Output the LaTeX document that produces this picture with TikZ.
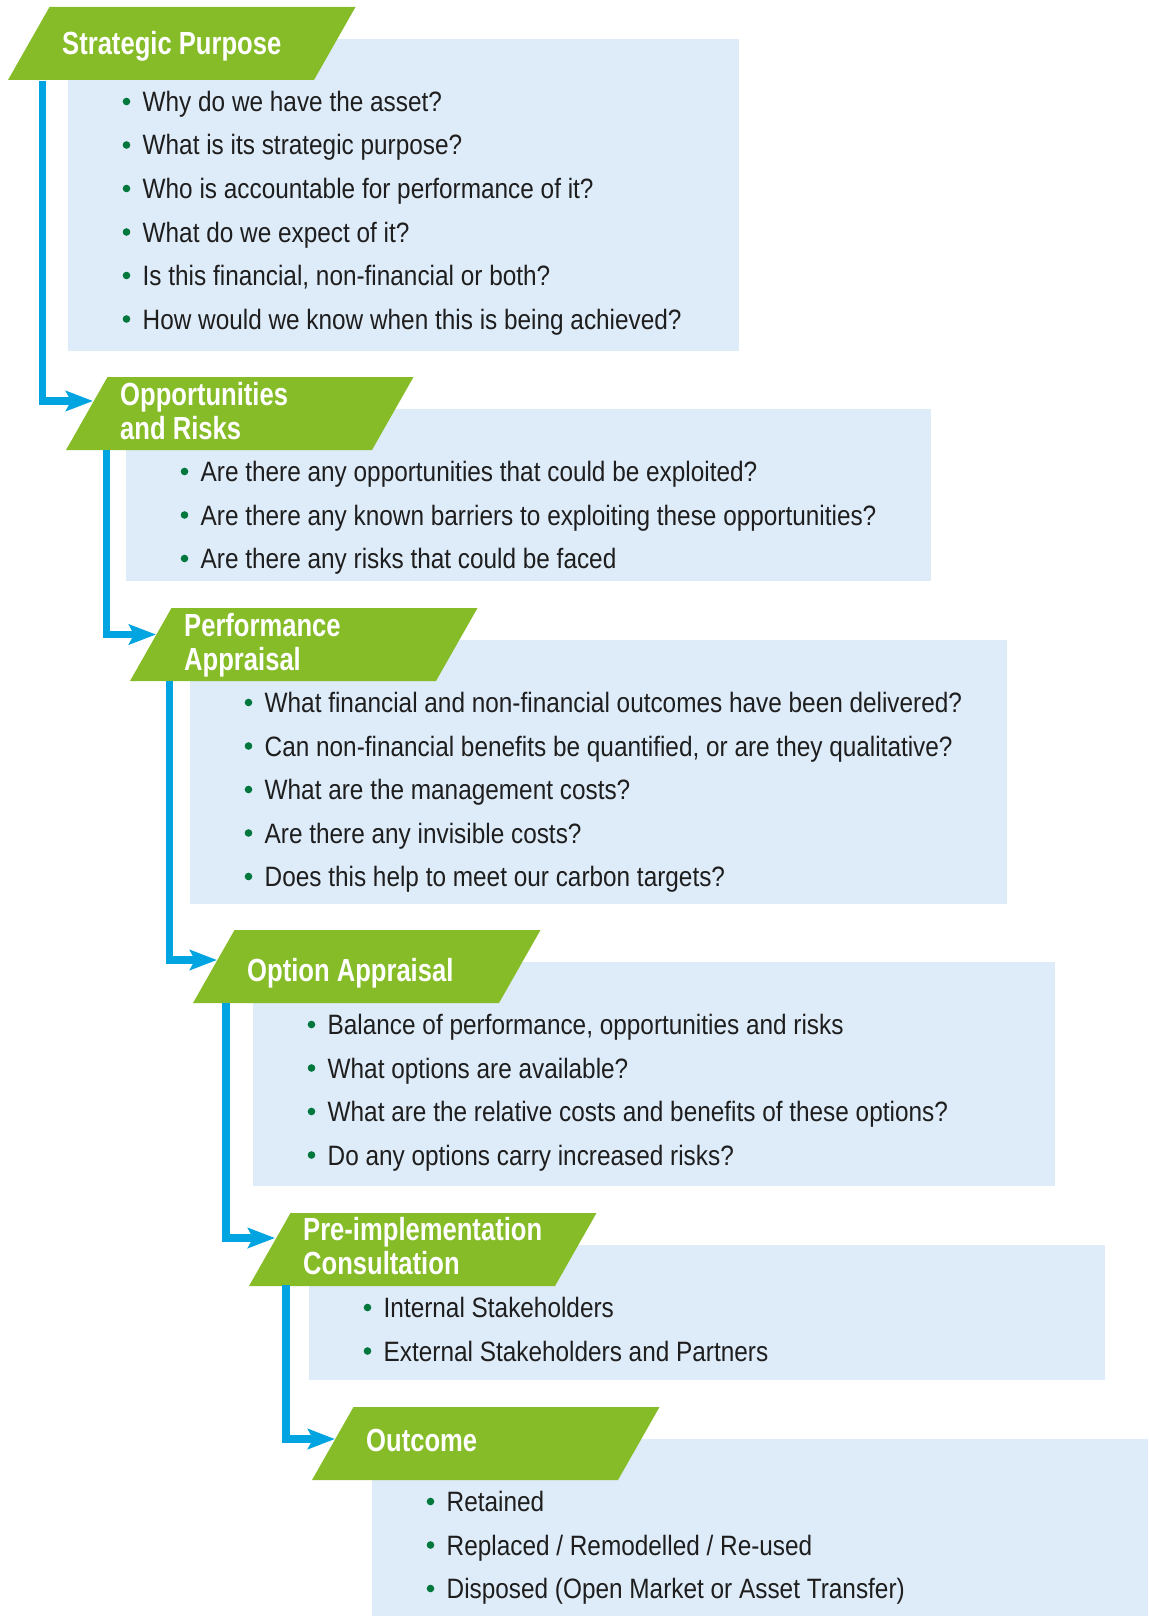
\documentclass[tikz,border=0pt]{standalone}
\usepackage{fontspec}
\setmainfont{Liberation Sans}[FakeStretch=0.87]
\newfontfamily\titlefont{Liberation Sans}[FakeStretch=0.8]
\usetikzlibrary{arrows.meta}
\definecolor{tabgreen}{HTML}{85BC28}
\definecolor{panelblue}{HTML}{DEEBF8}
\definecolor{lineblue}{HTML}{00A4E0}
\definecolor{dotgreen}{HTML}{00773D}
\definecolor{ink}{HTML}{1E1E1E}
\tikzset{
  panel/.style={fill=panelblue},
  tab/.style={fill=tabgreen},
  title/.style={text=white, font=\titlefont\bfseries\fontsize{32}{33.5}\selectfont, inner sep=0pt, anchor=base west, align=left},
  item/.style={text=ink, font=\fontsize{28}{30}\selectfont, inner sep=0pt, anchor=base west},
  bulletdot/.style={fill=dotgreen},
  flow/.style={draw=lineblue, line width=7.5pt, line join=miter, -{Stealth[length=27pt,width=20pt,inset=5pt]}}
}
% #1 id, #2 bottom-left x, #3 top y, #4 panel right, #5 panel bottom, #6 items
\newcommand\stagepanel[6]{%
  \fill[panel] ({#2+60},{#3+32}) rectangle (#4,#5);
  \fill[tab] (#2,{#3+73}) -- ({#2+41.5},#3) -- ({#2+347.5},#3) -- ({#2+306},{#3+73}) -- cycle;
  \foreach \txt [count=\k from 0] in {#6} {
    \fill[bulletdot] ({#2+118.5},{#3+32+72.5+43.5*\k-10}) circle (3.8);
    \node[item] (#1-\k) at ({#2+134.5},{#3+32+72.5+43.5*\k}) {\txt};
  }
}
\begin{document}
\begin{tikzpicture}[x=1pt,y=-1pt]
\useasboundingbox (0,0) rectangle (1148,1616);

\stagepanel{s1}{8}{7}{739}{351.4}{{Why do we have the asset?},{What is its strategic purpose?},{Who is accountable for performance of it?},{What do we expect of it?},{Is this financial, non-financial or both?},{How would we know when this is being achieved?}}
\stagepanel{s2}{66}{377}{930.5}{581}{{Are there any opportunities that could be exploited?},{Are there any known barriers to exploiting these opportunities?},{Are there any risks that could be faced}}
\stagepanel{s3}{130}{608}{1007}{904}{{What financial and non-financial outcomes have been delivered?},{Can non-financial benefits be quantified, or are they qualitative?},{What are the management costs?},{Are there any invisible costs?},{Does this help to meet our carbon targets?}}
\stagepanel{s4}{193}{930}{1055}{1186}{{Balance of performance, opportunities and risks},{What options are available?},{What are the relative costs and benefits of these options?},{Do any options carry increased risks?}}
\stagepanel{s5}{249}{1213}{1105}{1380}{{Internal Stakeholders},{External Stakeholders and Partners}}
\stagepanel{s6}{312}{1407}{1148}{1616}{{Retained},{Replaced / Remodelled / Re-used},{Disposed (Open Market or Asset Transfer)}}

% multi-line titles: base anchor sits on the last line's baseline
\node[title] (t1) at (62,55) {Strategic Purpose};
\node[title] (t2) at (120,439) {Opportunities\\and Risks};
\node[title] (t3) at (184,670) {Performance\\Appraisal};
\node[title] (t4) at (247,981.7) {Option Appraisal};
\node[title] (t5) at (303,1274) {Pre-implementation\\Consultation};
\node[title] (t6) at (366,1451.7) {Outcome};

\coordinate (o1) at (42.5,81);
\coordinate (i2) at (93,401);
\coordinate (o2) at (106.5,450);
\coordinate (i3) at (156,634.5);
\coordinate (o3) at (169.7,681);
\coordinate (i4) at (217,960);
\coordinate (o4) at (226,1003);
\coordinate (i5) at (275,1238);
\coordinate (o5) at (286,1285);
\coordinate (i6) at (335,1439);

\draw[flow] (o1) |- (i2);
\draw[flow] (o2) |- (i3);
\draw[flow] (o3) |- (i4);
\draw[flow] (o4) |- (i5);
\draw[flow] (o5) |- (i6);
\end{tikzpicture}
\end{document}
